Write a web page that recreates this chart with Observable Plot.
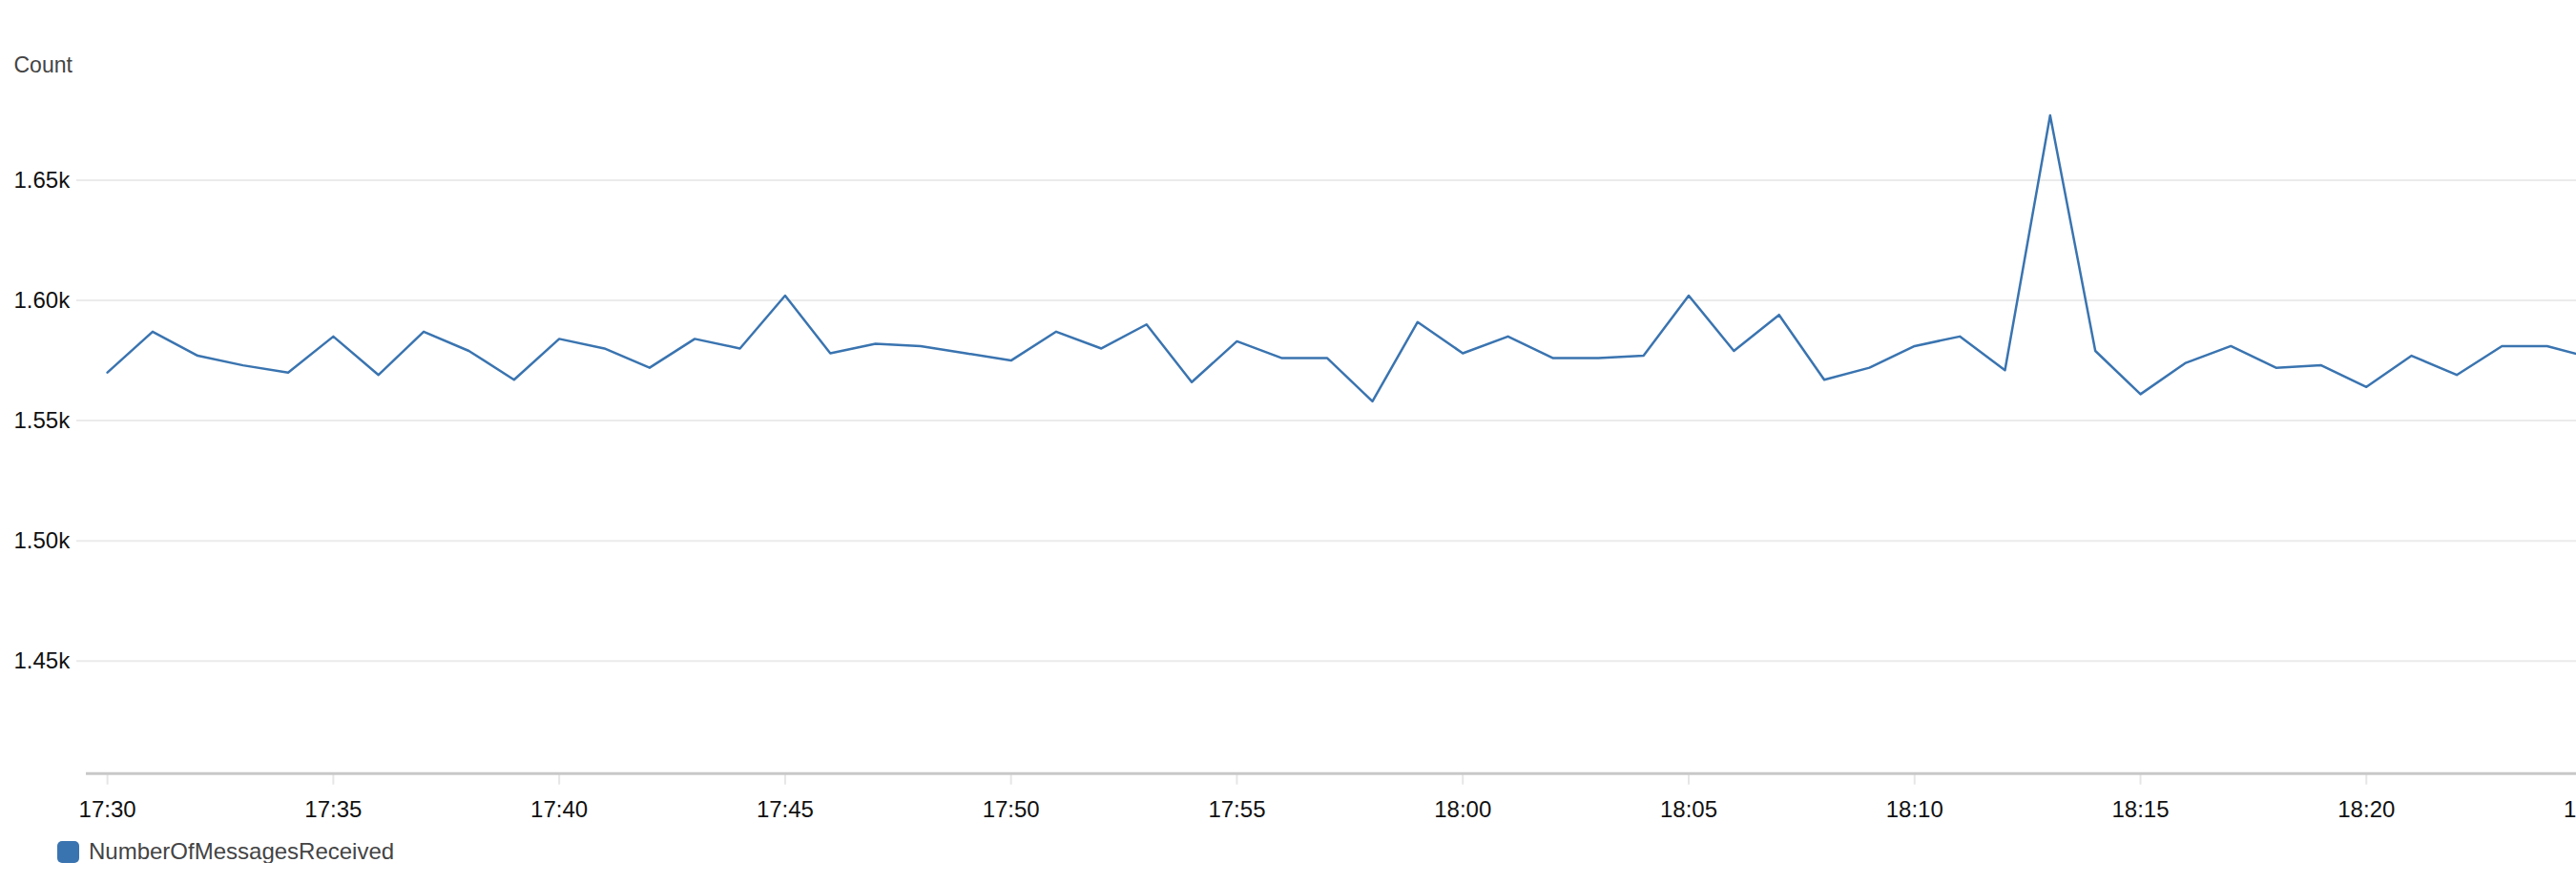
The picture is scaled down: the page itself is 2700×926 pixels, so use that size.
<!DOCTYPE html>
<html>
<head>
<meta charset="utf-8">
<script src="https://cdn.jsdelivr.net/npm/d3@7"></script>
<script src="https://cdn.jsdelivr.net/npm/@observablehq/plot@0.6"></script>
<style>
  html, body { margin: 0; padding: 0; background: #fff; overflow: hidden; }
  body { font-family: "Helvetica Neue", Helvetica, "Liberation Sans", Arial, sans-serif; }
  #legend { display: flex; align-items: center; margin-top: 11px; padding-left: 60px; height: 24px; }
  #legend .sw { width: 23px; height: 23px; border-radius: 5px; background: #3a74b0; }
  #legend .lb { margin-left: 10px; font-size: 24px; color: #444; line-height: 24px; }
</style>
</head>
<body>
<div id="chart"></div>
<div id="legend"><div class="sw"></div><div class="lb" id="legend-label"></div></div>
<script>
// ---- data ----
const seriesName = "NumberOfMessagesReceived";
const yLabel = "Count";
const times = [
  "17:30","17:31","17:32","17:33","17:34","17:35","17:36","17:37","17:38","17:39",
  "17:40","17:41","17:42","17:43","17:44","17:45","17:46","17:47","17:48","17:49",
  "17:50","17:51","17:52","17:53","17:54","17:55","17:56","17:57","17:58","17:59",
  "18:00","18:01","18:02","18:03","18:04","18:05","18:06","18:07","18:08","18:09",
  "18:10","18:11","18:12","18:13","18:14","18:15","18:16","18:17","18:18","18:19",
  "18:20","18:21","18:22","18:23","18:24","18:25"
];
const counts = [
  1570,1587,1577,1573,1570,1585,1569,1587,1579,1567,
  1584,1580,1572,1584,1580,1602,1578,1582,1581,1578,
  1575,1587,1580,1590,1566,1583,1576,1576,1558,1591,
  1578,1585,1576,1576,1577,1602,1579,1594,1567,1572,
  1581,1585,1571,1677,1579,1561,1574,1581,1572,1573,
  1564,1577,1569,1581,1581,1576
];
const xTickLabels = ["17:30","17:35","17:40","17:45","17:50","17:55","18:00","18:05","18:10","18:15","18:20","18:25"];
const yTicks = [1450, 1500, 1550, 1600, 1650];
const xDomainLabels = ["17:29:32", "18:24:39"];
const yDomain = [1403.2, 1685.1];

// ---- build ----
const toDate = s => {
  const [h, m, sec] = s.split(":").map(Number);
  return new Date(Date.UTC(2020, 0, 1, h, m, sec || 0));
};
const data = times.map((t, i) => ({time: toDate(t), value: counts[i]}));
const xTicks = xTickLabels.map(toDate);
const fmtTime = d3.utcFormat("%H:%M");
const fmtK = d => d3.format(".2f")(d / 1000) + "k";

const width = 2700, height = 870;
const marginTop = 100, marginBottom = 59.3, marginLeft = 90, marginRight = 0;

const chart = Plot.plot({
  width, height, marginTop, marginBottom, marginLeft, marginRight,
  style: {
    fontFamily: '"Helvetica Neue", Helvetica, "Liberation Sans", Arial, sans-serif',
    fontSize: "24px",
    color: "#111",
    background: "#fff",
    overflow: "visible"
  },
  x: {type: "utc", domain: xDomainLabels.map(toDate)},
  y: {domain: yDomain},
  marks: [
    Plot.ruleY(yTicks, {stroke: "#ebebeb", strokeWidth: 2, insetLeft: -10}),
    Plot.axisY({
      ticks: yTicks, tickFormat: fmtK, tickSize: 0, tickPadding: 76,
      textAnchor: "start", label: null, fill: "#111"
    }),
    Plot.axisX({
      ticks: xTicks, tickFormat: fmtTime, tickSize: 12, tickPadding: 16.3,
      stroke: "#e6e6e6", strokeWidth: 2, label: null, fill: "#111"
    }),
    Plot.ruleY([yDomain[0]], {stroke: "#c8c8c8", strokeWidth: 3}),
    Plot.line(data, {x: "time", y: "value", stroke: "#3a74b0", strokeWidth: 2.5, clip: true}),
    Plot.text([yLabel], {
      frameAnchor: "top-left", dx: -76, dy: -32, textAnchor: "start",
      lineAnchor: "middle", fill: "#444", fontSize: 23
    })
  ]
});
document.getElementById("chart").appendChild(chart);
document.getElementById("legend-label").textContent = seriesName;
</script>
</body>
</html>
